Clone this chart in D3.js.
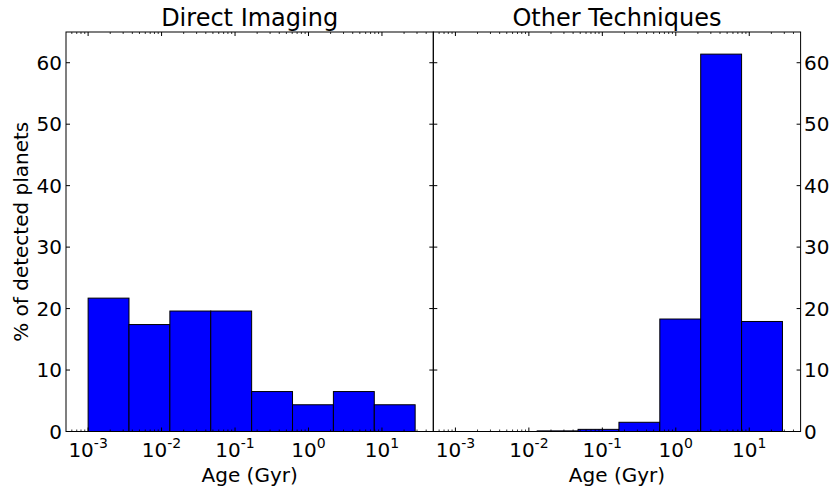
<!DOCTYPE html>
<html><head><meta charset="utf-8">
<script src="https://cdn.jsdelivr.net/npm/d3@7"></script>
<style>body{margin:0;background:#fff}svg{display:block}text{font-family:"DejaVu Sans",sans-serif;fill:#000}</style>
</head><body>
<script>
const binEdges = [0.001, 0.003601, 0.01297, 0.04672, 0.1683, 0.6061, 2.183, 7.862, 28.31];
const directImaging = [21.7, 17.4, 19.6, 19.6, 6.5, 4.35, 6.5, 4.35];
const otherTechniques = [0, 0, 0.1, 0.35, 1.5, 18.3, 61.4, 17.9];
const panelTitles = ["Direct Imaging", "Other Techniques"];
const xTicks = [1e-3, 1e-2, 1e-1, 1e0, 1e1];
const xTickExp = ["-3", "-2", "-1", "0", "1"];
const yTicks = [0, 10, 20, 30, 40, 50, 60];

const W = 830, H = 492;
const svg = d3.select("body").append("svg").attr("width", W).attr("height", H);
const plotTop = 32, plotBottom = 431.5;
const panels = [{x0: 66, x1: 433.3, data: directImaging, side: "left"},
                {x0: 433.3, x1: 800.6, data: otherTechniques, side: "right"}];
const y = d3.scaleLinear().domain([0, 65]).range([plotBottom, plotTop]);

panels.forEach((p, pi) => {
  const x = d3.scaleLog().domain([5e-4, 50]).range([p.x0, p.x1]);
  const g = svg.append("g");
  g.selectAll("rect.bar").data(p.data).join("rect")
    .attr("class", "bar")
    .attr("x", (d, i) => x(binEdges[i]))
    .attr("width", (d, i) => x(binEdges[i + 1]) - x(binEdges[i]))
    .attr("y", d => y(d))
    .attr("height", d => y(0) - y(d))
    .attr("fill", "#0000ff").attr("stroke", "#000").attr("stroke-width", 1);
  g.append("rect").attr("x", p.x0).attr("y", plotTop).attr("width", p.x1 - p.x0).attr("height", plotBottom - plotTop)
    .attr("fill", "none").attr("stroke", "#000").attr("stroke-width", 1);
  const minors = [];
  for (let e = -4; e <= 1; e++) for (let m = 2; m <= 9; m++) {
    const v = m * Math.pow(10, e);
    if (v > 5e-4 && v < 50) minors.push(v);
  }
  minors.forEach(v => {
    g.append("line").attr("x1", x(v)).attr("x2", x(v)).attr("y1", plotBottom).attr("y2", plotBottom - 2).attr("stroke", "#000").attr("stroke-width", 0.8);
    g.append("line").attr("x1", x(v)).attr("x2", x(v)).attr("y1", plotTop).attr("y2", plotTop + 2).attr("stroke", "#000").attr("stroke-width", 0.8);
  });
  xTicks.forEach((v, i) => {
    g.append("line").attr("x1", x(v)).attr("x2", x(v)).attr("y1", plotBottom).attr("y2", plotBottom - 4).attr("stroke", "#000");
    g.append("line").attr("x1", x(v)).attr("x2", x(v)).attr("y1", plotTop).attr("y2", plotTop + 4).attr("stroke", "#000");
    const t = g.append("text").attr("x", x(v)).attr("y", 456.5).attr("text-anchor", "middle").attr("font-size", 20);
    t.append("tspan").text("10");
    t.append("tspan").attr("dy", -9).attr("font-size", 14).text(xTickExp[i]);
  });
  yTicks.forEach(v => {
    g.append("line").attr("x1", p.x0).attr("x2", p.x0 + 4).attr("y1", y(v)).attr("y2", y(v)).attr("stroke", "#000");
    g.append("line").attr("x1", p.x1).attr("x2", p.x1 - 4).attr("y1", y(v)).attr("y2", y(v)).attr("stroke", "#000");
    if (p.side === "left") {
      g.append("text").attr("x", p.x0 - 4).attr("y", y(v) + 7.3).attr("text-anchor", "end").attr("font-size", 20).text(v);
    } else {
      g.append("text").attr("x", p.x1 + 3.5).attr("y", y(v) + 7.3).attr("text-anchor", "start").attr("font-size", 20).text(v);
    }
  });
  g.append("text").attr("x", (p.x0 + p.x1) / 2).attr("y", 26).attr("text-anchor", "middle").attr("font-size", 24).text(panelTitles[pi]);
  g.append("text").attr("x", (p.x0 + p.x1) / 2).attr("y", 481.5).attr("text-anchor", "middle").attr("font-size", 20).text("Age (Gyr)");
});
svg.append("text").attr("transform", `translate(28,${(plotTop + plotBottom) / 2}) rotate(-90)`).attr("text-anchor", "middle").attr("font-size", 20).text("% of detected planets");
</script>
</body></html>
